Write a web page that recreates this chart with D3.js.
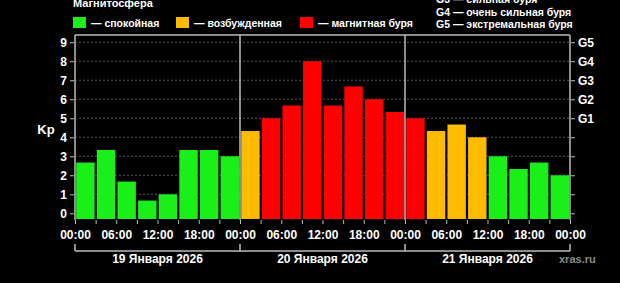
<!DOCTYPE html>
<html><head><meta charset="utf-8">
<script src="https://cdn.jsdelivr.net/npm/d3@7"></script>
<style>html,body{margin:0;padding:0;background:#000;overflow:hidden}svg{display:block}text{font-family:"Liberation Sans",Arial,sans-serif;font-weight:bold;fill:#fff}</style>
</head><body>
<script>
const days = ["19 Января 2026", "20 Января 2026", "21 Января 2026"];
const kpValues = [2.67,3.33,1.67,0.67,1.0,3.33,3.33,3.0, 4.33,5.0,5.67,8.0,5.67,6.67,6.0,5.33, 5.0,4.33,4.67,4.0,3.0,2.33,2.67,2.0];
const hourLabels = ["00:00","06:00","12:00","18:00"];
const kpTicks = [0,1,2,3,4,5,6,7,8,9];
const gLabels = ["G1","G2","G3","G4","G5"];
const legendItems = ["— спокойная","— возбужденная","— магнитная буря"];
const gLegend = ["G3 — сильная буря","G4 — очень сильная буря","G5 — экстремальная буря"];
const colors = {quiet:"#1aef1a", active:"#ffbb00", storm:"#ff0000"};

const W=620,H=283;
const svg=d3.select("body").append("svg").attr("width",W).attr("height",H);
svg.append("rect").attr("width",W).attr("height",H).attr("fill","#000");
const L=75,R=570,T=35,B=219;
const x=d3.scaleLinear().domain([0,72]).range([L,R]);
const y=d3.scaleLinear().domain([-0.3,9.38]).range([B,T]);
const colorOf=v=>v<4?colors.quiet:(v<5?colors.active:colors.storm);

// grid
svg.append("g").selectAll("line").data(kpTicks.filter(d=>d>0)).join("line")
 .attr("x1",L).attr("x2",R).attr("y1",d=>y(d)).attr("y2",d=>y(d))
 .attr("stroke","#555").attr("stroke-width",1).attr("stroke-dasharray","2,2");

// bars
svg.append("g").selectAll("rect").data(kpValues).join("rect")
 .attr("x",(d,i)=>x(i*3)+1.2).attr("width",x(3)-x(0)-2.2)
 .attr("y",d=>y(d)).attr("height",d=>B-y(d)).attr("fill",d=>colorOf(d));

// frame: top + day separators
svg.append("line").attr("x1",L).attr("x2",R).attr("y1",T).attr("y2",T).attr("stroke","#bbb").attr("stroke-width",1.5);
svg.append("g").selectAll("line").data([0,24,48,72]).join("line")
 .attr("x1",d=>x(d)).attr("x2",d=>x(d)).attr("y1",T).attr("y2",B+1).attr("stroke","#bbb").attr("stroke-width",1.5);

// left axis
const yl=svg.append("g").attr("transform",`translate(${L-1},0)`)
 .call(d3.axisLeft(y).tickValues(kpTicks).tickSize(4).tickPadding(3).tickFormat(d3.format("d")));
yl.select(".domain").remove();
yl.selectAll("line").attr("stroke","#bbb");
yl.selectAll("text").attr("fill","#fff").style("font-size","12px").style("font-family","Liberation Sans").style("font-weight","bold");

// right axis
const yr=svg.append("g").attr("transform",`translate(${R+1},0)`)
 .call(d3.axisRight(y).tickValues(kpTicks).tickSize(4).tickPadding(3).tickFormat(d=>d>=5?gLabels[d-5]:""));
yr.select(".domain").remove();
yr.selectAll("line").attr("stroke","#bbb");
yr.selectAll("text").attr("fill","#fff").style("font-size","12px").style("font-family","Liberation Sans").style("font-weight","bold");

// Kp label
svg.append("text").attr("x",46).attr("y",134).attr("text-anchor","middle").style("font-size","13px").text("Kp");

// bottom axis
const xb=svg.append("g").attr("transform",`translate(0,${B+1})`)
 .call(d3.axisBottom(x).tickValues(d3.range(0,73,3)).tickSize(4).tickPadding(6)
 .tickFormat(d=>d%6===0?hourLabels[(d%24)/6]:""));
xb.select(".domain").remove();
xb.selectAll("line").attr("stroke","#bbb");
xb.selectAll("text").attr("fill","#fff").style("font-size","12px").style("font-family","Liberation Sans").style("font-weight","bold");

// day brackets
const br=svg.append("g").attr("stroke","#bbb").attr("stroke-width",1.5).attr("fill","none");
br.append("line").attr("x1",x(0)).attr("x2",x(72)).attr("y1",251).attr("y2",251);
br.selectAll(".v").data([0,24,48,72]).join("line").attr("x1",d=>x(d)).attr("x2",d=>x(d)).attr("y1",244).attr("y2",251);
svg.append("g").selectAll("text").data(days).join("text")
 .attr("x",(d,i)=>x(i*24+12)).attr("y",263).attr("text-anchor","middle").style("font-size","12px").text(d=>d);
svg.append("text").attr("x",559).attr("y",263).attr("fill","#8a8a8a").style("fill","#8a8a8a").style("font-size","11px").text("xras.ru");

// legend
svg.append("text").attr("x",73).attr("y",7).style("font-size","11px").text("Магнитосфера");
const lx=[73,176,300], lc=[colors.quiet,colors.active,colors.storm];
const lg=svg.append("g").selectAll("g").data(legendItems).join("g").attr("transform",(d,i)=>`translate(${lx[i]},17)`);
lg.append("rect").attr("width",13).attr("height",11).attr("fill",(d,i)=>lc[i]);
lg.append("text").attr("x",18).attr("y",9.5).style("font-size","10.5px").text(d=>d);
svg.append("g").selectAll("text").data(gLegend).join("text")
 .attr("x",436).attr("y",(d,i)=>3+i*12.5).style("font-size","10.5px").text(d=>d);
</script>
</body></html>
